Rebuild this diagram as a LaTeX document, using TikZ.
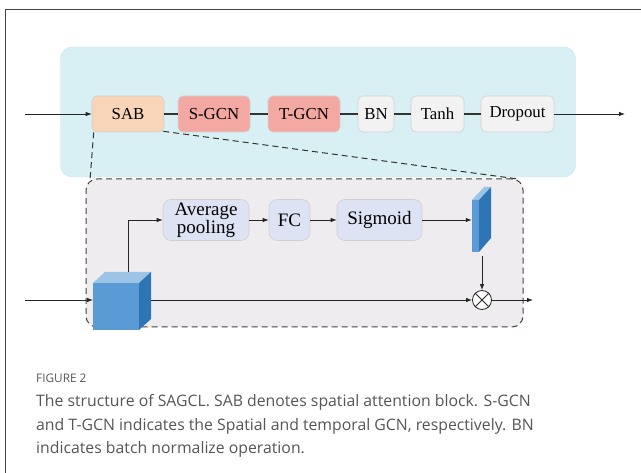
\documentclass[tikz,border=0pt]{standalone}
\usepackage{fontspec}
\setmainfont{Liberation Serif}
\newfontfamily\capfont{Open Sans}
\usetikzlibrary{arrows.meta}
\definecolor{cyanbg}{HTML}{D8F0F4}
\definecolor{cyanbd}{HTML}{C5E2E8}
\definecolor{peach}{HTML}{F8D5B8}
\definecolor{salmon}{HTML}{F4A8A2}
\definecolor{lgray}{HTML}{F2F2F2}
\definecolor{boxbd}{HTML}{D0D0D0}
\definecolor{lav}{HTML}{DDE3F3}
\definecolor{panelbg}{HTML}{EEECEE}
\definecolor{bluefront}{HTML}{5B9BD5}
\definecolor{bluetop}{HTML}{9DC3E6}
\definecolor{blueside}{HTML}{2E75B6}
\definecolor{captxt}{HTML}{555555}
\definecolor{frame}{HTML}{444444}
\tikzset{
  blk/.style={draw=boxbd, line width=0.6pt, rounded corners=5pt, minimum height=36pt, inner sep=0pt, font=\fontsize{16.8}{18}\selectfont},
  sub/.style={draw=boxbd, line width=0.6pt, rounded corners=8pt, minimum height=41pt, inner sep=0pt, fill=lav, align=center, font=\fontsize{19}{19}\selectfont},
  link/.style={draw=black!80, line width=1.1pt},
  arr/.style={draw=black!85, line width=0.8pt, -{Latex[length=6pt,width=4.5pt]}},
  capline/.style={anchor=base west, inner sep=0pt, text=captxt, font=\capfont\fontsize{15.8}{18}\selectfont},
}
\begin{document}
\begin{tikzpicture}[x=1pt,y=-1pt]
\useasboundingbox (0,0) rectangle (641,473);
% frame
\draw[frame, line width=1pt] (5,473) -- (5,10) -- (641,10);
% cyan container
\node[draw=cyanbd, fill=cyanbg, rounded corners=12pt, minimum width=515pt, minimum height=130pt, inner sep=0pt] (cont) at (318,112) {};
% dashed container
\node[draw=black!75, line width=1pt, fill=panelbg, rounded corners=11pt, minimum width=437pt, minimum height=148pt, inner sep=0pt, dash pattern=on 6pt off 4pt] (dbox) at (304.5,253) {};
% main row
\node[blk, fill=peach, minimum width=72pt] (sab) at (128,114) {SAB};
\node[blk, fill=salmon, minimum width=72pt] (sgcn) at (214,114) {S-GCN};
\node[blk, fill=salmon, minimum width=72pt] (tgcn) at (304,114) {T-GCN};
\node[blk, fill=lgray, minimum width=36pt] (bn) at (376,114) {BN};
\node[blk, fill=lgray, minimum width=53pt] (tanh) at (437.5,114) {Tanh};
\node[blk, fill=lgray, minimum width=73pt] (drop) at (517.5,114) {Dropout};
\coordinate (in1) at (25,114);
\coordinate (out1) at (625,114);
\draw[arr] (in1) -- (sab);
\draw[link] (sab) -- (sgcn);
\draw[link] (sgcn) -- (tgcn);
\draw[link] (tgcn) -- (bn);
\draw[link] (bn) -- (tanh);
\draw[link] (tanh) -- (drop);
\draw[arr] (drop) -- (out1);
% zoom dashed lines
\coordinate (dl) at (90,180);
\coordinate (dr) at (518,179);
\draw[black!80, line width=1pt, dash pattern=on 6pt off 4pt] (sab.south west) ++(2,0) -- (dl);
\draw[black!80, line width=1pt, dash pattern=on 6pt off 4pt] (sab.south east) ++(-1,-1) -- (dr);
% sub blocks
\node[sub, minimum width=86pt] (avg) at (206,220) {Average\\[-1pt]pooling};
\node[sub, minimum width=41pt] (fc) at (289.5,220) {FC};
\node[sub, minimum width=85pt] (sig) at (379.5,220) {Sigmoid};
% cube
\fill[bluetop] (93,283) -- (105,272) -- (151,272) -- (139,283) -- cycle;
\fill[blueside] (139,283) -- (151,272) -- (151,319) -- (139,330) -- cycle;
\node[fill=bluefront, minimum width=46pt, minimum height=47pt, inner sep=0pt] (cube) at (116,306.5) {};
\coordinate (ctop) at (128,272);
\coordinate (cin) at (25,300);
\coordinate (cright) at (151,300);
\coordinate (cleft) at (93,300);
% panel
\fill[bluetop] (472,200) -- (484,187) -- (491,187) -- (479,200) -- cycle;
\fill[blueside] (479,200) -- (491,187) -- (491,238) -- (479,252) -- cycle;
\node[fill=bluefront, minimum width=7pt, minimum height=52pt, inner sep=0pt] (panel) at (475.5,226) {};
\coordinate (pbot) at (482,256);
% otimes
\node[draw=black!85, fill=white, circle, line width=0.8pt, minimum size=19pt, inner sep=0pt] (ot) at (482,300) {};
\draw[black!85, line width=0.8pt] (ot.45) -- (ot.225) (ot.135) -- (ot.-45);
\coordinate (out2) at (533,300);
% connectors
\draw[arr] (cin) -- (cleft);
\draw[arr] (ctop) |- (avg.west);
\draw[arr] (avg) -- (fc);
\draw[arr] (fc) -- (sig);
\draw[arr] (sig.east) -- (sig.east -| panel.west);
\draw[arr] (pbot) -- (ot.north);
\draw[arr] (cright) -- (ot.west);
\draw[arr] (ot.east) -- (out2);
% caption
\node[capline, font=\capfont\fontsize{11.8}{14}\selectfont] (fig) at (36,383) {FIGURE 2};
\node[capline] (cap1) at (36,407) {The structure of SAGCL. SAB denotes spatial attention block. S-GCN};
\node[capline] (cap2) at (36,430.5) {and T-GCN indicates the Spatial and temporal GCN, respectively. BN};
\node[capline] (cap3) at (36,454) {indicates batch normalize operation.};
\end{tikzpicture}
\end{document}
